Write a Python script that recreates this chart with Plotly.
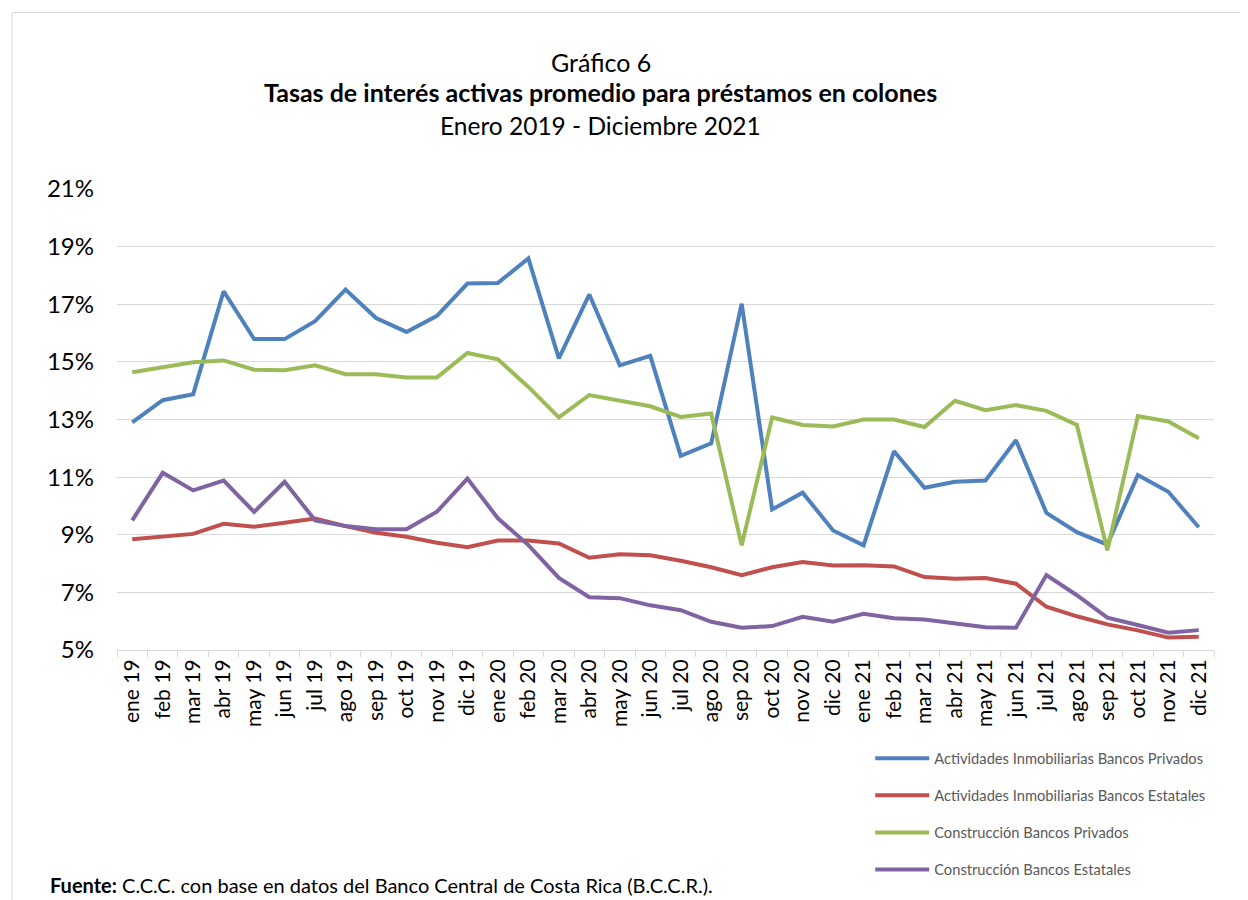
import plotly.graph_objects as go

# meses ene 19 - dic 21
MESES = ["ene", "feb", "mar", "abr", "may", "jun", "jul", "ago", "sep", "oct", "nov", "dic"]
periodos = [m + " " + a for a in ["19", "20", "21"] for m in MESES]

# tasas en porcentaje
inmob_privados = [12.90, 13.67, 13.88, 17.45, 15.79, 15.79, 16.41, 17.51, 16.52, 16.04, 16.60, 17.72,
                  17.74, 18.59, 15.12, 17.34, 14.88, 15.21, 11.74, 12.17, 17.02, 9.88, 10.46, 9.15,
                  8.63, 11.90, 10.63, 10.84, 10.88, 12.28, 9.76, 9.09, 8.66, 11.07, 10.49, 9.26]
inmob_estatales = [8.84, 8.94, 9.03, 9.38, 9.28, 9.42, 9.56, 9.30, 9.07, 8.93, 8.72, 8.57,
                   8.80, 8.80, 8.70, 8.20, 8.32, 8.29, 8.10, 7.87, 7.60, 7.87, 8.05, 7.93,
                   7.94, 7.90, 7.53, 7.47, 7.50, 7.30, 6.50, 6.17, 5.89, 5.68, 5.43, 5.46]
constr_privados = [14.64, 14.83, 14.99, 15.05, 14.73, 14.71, 14.88, 14.57, 14.57, 14.46, 14.46, 15.31,
                   15.09, 14.13, 13.07, 13.85, 13.65, 13.46, 13.09, 13.21, 8.63, 13.07, 12.81, 12.76,
                   13.00, 13.00, 12.74, 13.65, 13.32, 13.50, 13.30, 12.81, 8.46, 13.12, 12.93, 12.35]
constr_estatales = [9.50, 11.15, 10.54, 10.88, 9.79, 10.84, 9.50, 9.30, 9.19, 9.19, 9.80, 10.95,
                    9.57, 8.64, 7.50, 6.83, 6.80, 6.55, 6.38, 5.98, 5.77, 5.83, 6.15, 5.98,
                    6.26, 6.10, 6.06, 5.94, 5.79, 5.77, 7.60, 6.90, 6.12, 5.87, 5.60, 5.69]

series = [
    ("Actividades Inmobiliarias Bancos Privados", inmob_privados, "#4F81BD"),
    ("Actividades Inmobiliarias Bancos Estatales", inmob_estatales, "#C0504D"),
    ("Construcción Bancos Privados", constr_privados, "#9BBB59"),
    ("Construcción Bancos Estatales", constr_estatales, "#8064A2"),
]

FONT = "Lato"
GRID = "#d9d9d9"

fig = go.Figure()
for i, (nombre, valores, color) in enumerate(series):
    fig.add_trace(go.Scatter(
        x=periodos,
        y=valores,
        mode="lines",
        name=nombre,
        legendgroup="g%d" % i,
        line=dict(color=color, width=4),
    ))

# la pagina html deja 8px de margen, por eso 1240x892
fig.update_layout(
    width=1240,
    height=892,
    margin=dict(l=109, r=34, t=181, b=250),
    paper_bgcolor="white",
    plot_bgcolor="white",
    font=dict(family=FONT, color="black"),
    showlegend=True,
    legend=dict(
        x=0.6866, y=-0.2, xanchor="left", yanchor="top",
        font=dict(size=14.7, color="#595959", family=FONT),
        tracegroupgap=15,
        itemwidth=54,
        bgcolor="rgba(0,0,0,0)",
    ),
    xaxis=dict(
        type="category",
        tickangle=-90,
        tickfont=dict(size=21),
        showgrid=False,
        showline=True,
        linecolor=GRID,
        linewidth=1,
        ticks="outside",
        tickson="boundaries",
        ticklen=6,
        tickcolor=GRID,
        range=[-0.5, len(periodos) - 0.5],
    ),
    yaxis=dict(
        range=[5, 21],
        dtick=2,
        tick0=5,
        ticksuffix="%",
        tickfont=dict(size=24),
        showgrid=True,
        gridcolor=GRID,
        gridwidth=1,
        zeroline=False,
        showline=False,
        ticklabelstandoff=22,
    ),
    annotations=[
        dict(text="Gráfico 6", x=0.4412, y=1.2755, xref="paper", yref="paper",
             yanchor="middle", showarrow=False, font=dict(size=25)),
        dict(text="<b>Tasas de interés activas promedio para préstamos en colones</b>",
             x=0.4412, y=1.2104, xref="paper", yref="paper", yanchor="middle",
             showarrow=False, font=dict(size=25)),
        dict(text="Enero 2019 - Diciembre 2021", x=0.4412, y=1.1367, xref="paper", yref="paper",
             yanchor="middle", showarrow=False, font=dict(size=24.5)),
        dict(text="<b>Fuente:</b> C.C.C. con base en datos del Banco Central de Costa Rica (B.C.C.R.).",
             x=-0.0629, y=-0.5098, xref="paper", yref="paper", xanchor="left", yanchor="middle",
             showarrow=False, font=dict(size=20)),
    ],
    shapes=[
        dict(type="rect", xref="paper", yref="paper",
             x0=-0.0957, x1=1.04, y0=-0.56, y1=1.3829,
             line=dict(color=GRID, width=1), fillcolor="rgba(0,0,0,0)", layer="below"),
    ],
)

fig.write_html("out.html")
